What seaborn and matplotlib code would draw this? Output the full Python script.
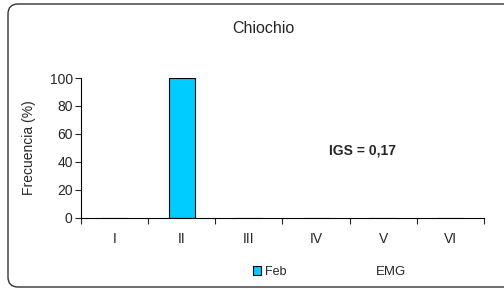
import pandas as pd
import seaborn as sns
import matplotlib.pyplot as plt
from matplotlib.patches import FancyBboxPatch

# data
stages = ["I", "II", "III", "IV", "V", "VI"]
freq_feb = [0, 100, 0, 0, 0, 0]
month = ["Feb"] * len(stages)
y_ticks = [0, 20, 40, 60, 80, 100]

df = pd.DataFrame({"stage": stages, "freq": freq_feb, "month": month})

sns.set_style("white")
plt.rcParams['font.family'] = ['Liberation Sans', 'DejaVu Sans']

fig = plt.figure(figsize=(5.04, 2.89), dpi=100)
ax = fig.add_axes([0.1607, 0.2457, 0.7996, 0.4844])

sns.barplot(data=df, x="stage", y="freq", hue="month", palette={"Feb": "#00CCFF"},
            saturation=1, width=0.39, edgecolor="black", linewidth=0.8, ax=ax)

ax.set_xlim(-0.5, 5.5)
ax.set_ylim(0, 100)
ax.set_yticks(y_ticks)
ax.tick_params(axis="y", labelsize=10, length=4, width=0.8, direction="out", left=True, pad=2)

# tick marks between categories, labels centered
ax.set_xticks([i - 0.5 for i in range(len(stages) + 1)])
ax.set_xticklabels([])
ax.set_xticks(range(len(stages)), minor=True)
ax.set_xticklabels(stages, minor=True, fontsize=10)
ax.tick_params(axis="x", which="major", length=4, width=0.8, direction="out", bottom=True)
ax.tick_params(axis="x", which="minor", length=0, pad=10)

for s in ["top", "right"]:
    ax.spines[s].set_visible(False)
for s in ["left", "bottom"]:
    ax.spines[s].set_color("black")
    ax.spines[s].set_linewidth(0.8)

ax.set_xlabel("")
ax.set_ylabel("Frecuencia (%)", fontsize=10, labelpad=10)

fig.text(0.522, 0.90, "Chiochio", ha="center", va="center", fontsize=11.5)
fig.text(0.72, 0.478, "IGS = 0,17", ha="center", va="center", fontsize=10, fontweight="bold")
fig.text(0.776, 0.058, "EMG", ha="center", va="center", fontsize=9.5)

leg = ax.legend(loc="center", bbox_to_anchor=(0.535, 0.058), bbox_transform=fig.transFigure,
                frameon=False, fontsize=9, handlelength=0.7, handleheight=0.7,
                handletextpad=0.3, borderpad=0)

# rounded outer frame, in inches so the corners stay circular
fig.patches.append(FancyBboxPatch((0.08, 0.02), 5.5, 2.83, boxstyle="round,pad=0,rounding_size=0.1",
                                  transform=fig.dpi_scale_trans, fill=False, edgecolor="#333333",
                                  linewidth=1.0, figure=fig))

fig.savefig("out.png", dpi=100)
